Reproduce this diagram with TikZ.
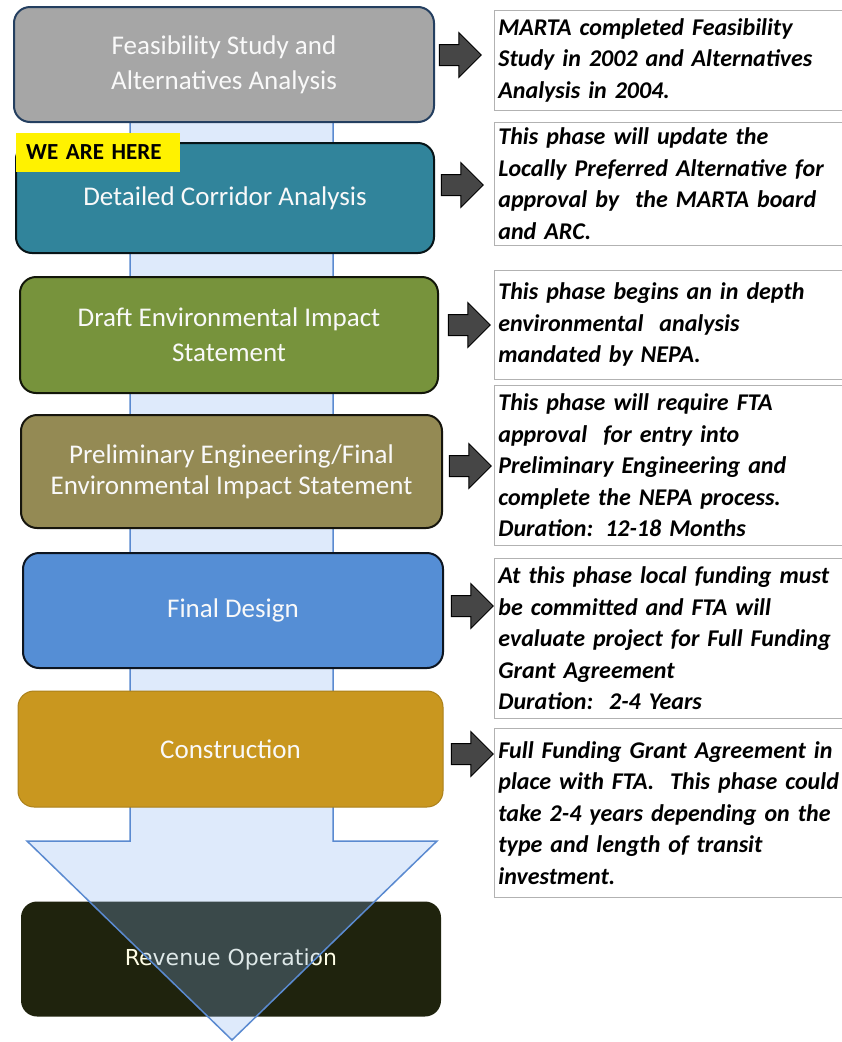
\documentclass[tikz,border=0pt]{standalone}
\usepackage{fontspec}
\setmainfont{Carlito}
\newfontfamily\revfont{DejaVu Sans}
\usetikzlibrary{shapes.arrows}
\definecolor{feasgray}{HTML}{A6A6A6}
\definecolor{feasline}{HTML}{243F60}
\definecolor{corrteal}{HTML}{31849B}
\definecolor{deisgreen}{HTML}{77933C}
\definecolor{pefolive}{HTML}{948A54}
\definecolor{fdblue}{HTML}{558ED5}
\definecolor{congold}{HTML}{C9971F}
\definecolor{revdark}{HTML}{1F230D}
\definecolor{flowblue}{HTML}{5A8AD0}
\definecolor{flowfill}{RGB}{134,176,240}
\definecolor{arrowgray}{HTML}{464646}
\tikzset{
	phase/.style={rounded corners=16pt, minimum width=420pt, minimum height=115pt, line width=2pt,
		text=gray!5, align=center, font=\fontsize{27}{35}\selectfont},
	note/.style={draw=gray!60, line width=0.8pt, fill=white, anchor=north west, text width=370pt,
		inner xsep=4pt, inner ysep=2pt, align=left, font=\bfseries\itshape\fontsize{24}{31.5}\selectfont},
	blockarrow/.style={single arrow, draw=black, fill=arrowgray, line width=1pt, inner sep=0pt,
		minimum height=42pt, single arrow head extend=12pt},
}

\begin{document}
\begin{tikzpicture}[x=1pt, y=-1pt]
	\useasboundingbox (0,0) rectangle (842,1042);
	\node[phase, fill=revdark, text=white!90!yellow, font=\revfont\fontsize{22}{26}\selectfont] (rev) at (231,959) {Revenue Operation};
	% the big flow arrow, under the phases but over the last one
	\draw[line width=1.5pt, draw=flowblue, fill=flowfill, fill opacity=0.27] (130,60) -- (130,841) -- (27,841) -- (232,1040) -- (437,841) -- (333,841) -- (333,60) -- cycle;
	\node[phase, draw=feasline, fill=feasgray] (feas) at (224,64.5) {Feasibility Study and\\Alternatives Analysis};
	\node[phase, draw=black!85!corrteal, fill=corrteal, minimum width=418pt, minimum height=110pt] (corr) at (225,198) {Detailed Corridor Analysis};
	\node[phase, draw=black!85!deisgreen, fill=deisgreen, minimum width=418pt, minimum height=116pt] (deis) at (229,335) {Draft Environmental Impact\\Statement};
	\node[phase, draw=black!85!pefolive, fill=pefolive, minimum width=421pt, minimum height=113pt, font=\fontsize{27}{31}\selectfont] (pe) at (231.5,471.5) {Preliminary Engineering/Final\\Environmental Impact Statement};
	\node[phase, draw=black!85!fdblue, fill=fdblue] (fd) at (233,610.5) {Final Design};
	\node[phase, draw=black!15!congold, line width=1pt, fill=congold, minimum width=425pt, minimum height=116pt] (con) at (230.5,749) {Construction};
	\node[fill=yellow, anchor=west, minimum height=39pt, text width=144pt, inner xsep=10pt, inner ysep=0pt, align=left, font=\bfseries\fontsize{23}{26}\selectfont] (here) at (16,152.5) {WE ARE HERE};

	\node[note, minimum height=100pt] (n1) at (494,10) {MARTA completed Feasibility\\Study in 2002 and Alternatives\\Analysis in 2004.};
	\node[note, minimum height=123pt] (n2) at (494,122) {This phase will update the\\Locally Preferred Alternative for\\approval by\ \ the MARTA board\\and ARC.};
	\node[note, minimum height=109pt] (n3) at (494,270) {This phase begins an in depth\\environmental\ \ analysis\\mandated by NEPA.};
	\node[note, minimum height=160pt] (n4) at (494,385) {This phase will require FTA\\approval\ \ for entry into\\Preliminary Engineering and\\complete the NEPA process.\\Duration: 12-18 Months};
	\node[note, minimum height=160pt] (n5) at (494,558) {At this phase local funding must\\be committed and FTA will\\evaluate project for Full Funding\\Grant Agreement\\Duration:\ \ 2-4 Years};
	\node[note, minimum height=169pt] (n6) at (494,728) {Full Funding Grant Agreement in\\place with FTA.\ \ This phase could\\take 2-4 years depending on the\\type and length of transit\\investment.};

	\foreach \i/\x/\y in {1/455/55, 2/457/185, 3/464/325, 4/465/466, 5/467/606, 6/467/754} {
		\node[blockarrow] (arr\i) at (\x,\y) {\rule{0pt}{20pt}};}
\end{tikzpicture}
\end{document}
